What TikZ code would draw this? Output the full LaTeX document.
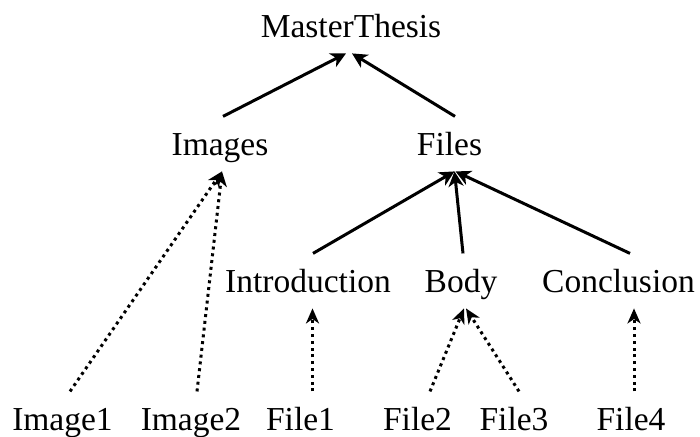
\documentclass[tikz,border=0pt]{standalone}
\usepackage{fontspec}
\setmainfont{Liberation Serif}
\usetikzlibrary{arrows.meta,calc}
\begin{document}
\begin{tikzpicture}[x=0.5pt,y=-0.5pt,
  lbl/.style={inner xsep=0pt, inner ysep=8pt, text height=11.1pt, text depth=0pt,
    font=\fontsize{16.75pt}{20pt}\selectfont, anchor=base},
  solidlink/.style={line width=1.5pt, -{Stealth[length=7.5pt,width=7.5pt,inset=2.2pt]}},
  dotlink/.style={line width=1.5pt, dash pattern=on 1.5pt off 1.9pt,
    -{Stealth[length=7.5pt,width=6.5pt,inset=2.2pt]}}]
  \useasboundingbox (0,0) rectangle (700,436);

  % tree levels
  \node[lbl] (master) at (351,37) {MasterThesis};
  \node[lbl] (images) at (220,155) {Images};
  \node[lbl] (files)  at (449.5,155) {Files};
  \node[lbl] (intro)  at (308,292) {Introduction};
  \node[lbl] (body)   at (461,292) {Body};
  \node[lbl] (concl)  at (618.5,292) {Conclusion};
  \node[lbl] (img1)   at (62.5,430) {Image1};
  \node[lbl] (img2)   at (191,430) {Image2};
  \node[lbl] (file1)  at (300.5,430) {File1};
  \node[lbl] (file2)  at (417.5,430) {File2};
  \node[lbl] (file3)  at (514,430) {File3};
  \node[lbl] (file4)  at (631,430) {File4};

  % folder containment (solid)
  \draw[solidlink] ($(images.north)+(3,0)$) -- ($(master.south)+(-5,0)$);
  \draw[solidlink] ($(files.north)+(5.5,0)$) -- ($(master.south)+(1,0)$);
  \draw[solidlink] ($(intro.north)+(5,0)$) -- ($(files.south)+(5,0)$);
  \draw[solidlink] ($(body.north)+(2,0)$) -- ($(files.south)+(5,0)$);
  \draw[solidlink] ($(concl.north)+(11.5,0)$) -- ($(files.south)+(6,0)$);

  % file membership (dotted)
  \draw[dotlink] ($(img1.north)+(7.5,0)$) -- ($(images.south)+(2,0)$);
  \draw[dotlink] ($(img2.north)+(6,0)$) -- ($(images.south)+(2,0)$);
  \draw[dotlink] ($(file1.north)+(12,0)$) -- ($(intro.south)+(4.5,0)$);
  \draw[dotlink] ($(file2.north)+(12.5,0)$) -- ($(body.south)+(3,0)$);
  \draw[dotlink] ($(file3.north)+(5,0)$) -- ($(body.south)+(5,0)$);
  \draw[dotlink] ($(file4.north)+(3,0)$) -- ($(concl.south)+(15.5,0)$);
\end{tikzpicture}
\end{document}
